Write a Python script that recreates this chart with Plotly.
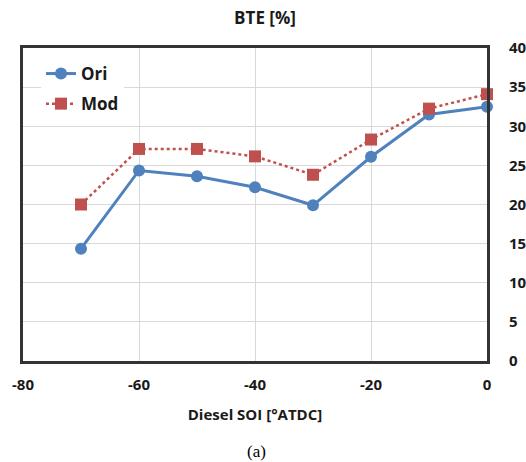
import plotly.graph_objects as go

soi = [-70, -60, -50, -40, -30, -20, -10, 0]
ori = [14.35, 24.35, 23.6, 22.2, 19.9, 26.1, 31.5, 32.5]
mod = [20.0, 27.1, 27.1, 26.15, 23.8, 28.3, 32.25, 34.1]

x_ticks = [-80, -60, -40, -20, 0]
y_ticks = [0, 5, 10, 15, 20, 25, 30, 35, 40]

FONT = "Open Sans"
TXT = "#1a1a1a"

fig = go.Figure()
fig.add_trace(go.Scatter(
    x=soi, y=ori, name="<b>Ori</b>", mode="lines+markers", legendgroup="a",
    line=dict(color="#4F81BD", width=3),
    marker=dict(symbol="circle", size=12, color="#4F81BD"),
    cliponaxis=False,
))
fig.add_trace(go.Scatter(
    x=soi, y=mod, name="<b>Mod</b>", mode="lines+markers", legendgroup="b",
    line=dict(color="#C0504D", width=2.5, dash="dot"),
    marker=dict(symbol="square", size=12, color="#C0504D"),
    cliponaxis=False,
))

H = 462 - 48 - 101

fig.update_layout(
    width=526, height=462,
    margin=dict(l=23, r=39, t=48, b=101),
    paper_bgcolor="white", plot_bgcolor="white",
    font=dict(family=FONT, size=14, color=TXT),
    title=dict(text="<b>BTE [%]</b>", x=265 / 526, xanchor="center",
               y=1 - 18 / 462, yanchor="middle", font=dict(size=17, family=FONT, color=TXT)),
    showlegend=True,
    legend=dict(
        x=18 / 464, y=1 - 8 / H, xanchor="left", yanchor="top",
        bgcolor="white", borderwidth=0,
        font=dict(size=17, family=FONT, color=TXT),
        tracegroupgap=5, itemwidth=30,
    ),
    xaxis=dict(
        range=[-80, 0], tickmode="array", tickvals=x_ticks,
        ticktext=[f"<b>{v}</b>" for v in x_ticks],
        showgrid=True, gridcolor="#d9d9d9", gridwidth=1,
        showline=True, linecolor="#333333", linewidth=3, mirror=True,
        zeroline=False, ticks="", ticklabelstandoff=8, automargin=False,
        tickfont=dict(size=15, family=FONT, color=TXT),
        title=dict(text="<b>Diesel SOI [°ATDC]</b>", standoff=17,
                   font=dict(size=15, family=FONT, color=TXT)),
    ),
    yaxis=dict(
        range=[0, 40], side="right", tickmode="array", tickvals=y_ticks,
        ticktext=[f"<b>{v}</b>" for v in y_ticks],
        showgrid=True, gridcolor="#d9d9d9", gridwidth=1,
        showline=True, linecolor="#333333", linewidth=3, mirror=True,
        zeroline=False, ticks="", ticklabelstandoff=16, automargin=False,
        tickfont=dict(size=15, family=FONT, color=TXT),
    ),
)

fig.add_annotation(
    text="(a)", x=265 / 526, y=(462 - 101 - 452) / H, xref="paper", yref="paper",
    yanchor="middle", xanchor="center", showarrow=False,
    font=dict(size=17, family="Liberation Serif", color="black"),
)

fig.write_html("out.html")
